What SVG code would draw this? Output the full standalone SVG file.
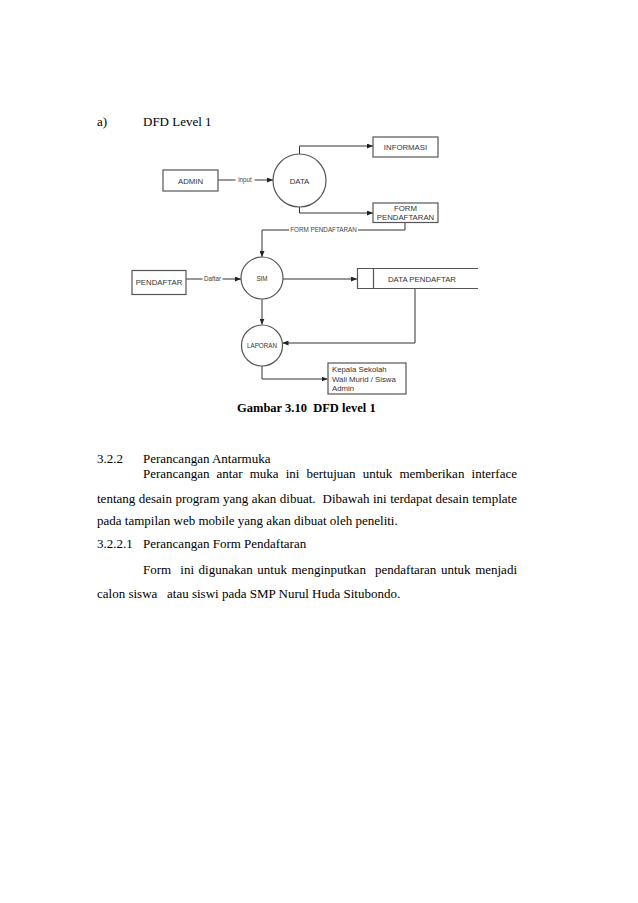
<svg xmlns="http://www.w3.org/2000/svg" width="638" height="903" viewBox="0 0 638 903">
<defs>
<marker id="arr" markerWidth="6" markerHeight="5" refX="6" refY="2.5" orient="auto" markerUnits="userSpaceOnUse">
<path d="M0,0 L6,2.5 L0,5 Z" fill="#222"/>
</marker>
</defs>
<style>
.body{font-family:"Liberation Serif","Times New Roman",serif;font-size:13px;fill:#000;white-space:pre}
.bold{font-family:"Liberation Serif","Times New Roman",serif;font-size:12.5px;font-weight:bold;fill:#000;white-space:pre}
.box{fill:#fff;stroke:#555;stroke-width:1.2}
.nt{font-family:"Liberation Sans",Arial,sans-serif;font-size:7.8px;fill:#333}
.st{font-family:"Liberation Sans",Arial,sans-serif;font-size:6.3px;fill:#333}
.ln{fill:none;stroke:#333;stroke-width:1}
.lbl{font-family:"Liberation Sans",Arial,sans-serif;font-size:6.3px;fill:#444}
</style>
<rect width="638" height="903" fill="#fff"/>

<g id="page-text">
<text class="body" x="97" y="126">a)</text>
<text class="body" x="143" y="126">DFD Level 1</text>
<text class="bold" x="237" y="412" xml:space="preserve">Gambar 3.10  DFD level 1</text>
<text class="body" x="97" y="463">3.2.2</text>
<text class="body" x="143" y="463">Perancangan Antarmuka</text>
<text class="body" x="143" y="478" word-spacing="3.87">Perancangan antar muka ini bertujuan untuk memberikan interface</text>
<text class="body" x="97" y="503" word-spacing="0.24" xml:space="preserve">tentang desain program yang akan dibuat.  Dibawah ini terdapat desain template</text>
<text class="body" x="97" y="525">pada tampilan web mobile yang akan dibuat oleh peneliti.</text>
<text class="body" x="97" y="548">3.2.2.1</text>
<text class="body" x="143" y="548">Perancangan Form Pendaftaran</text>
<text class="body" x="143" y="574" word-spacing="1.32" xml:space="preserve">Form  ini digunakan untuk menginputkan  pendaftaran untuk menjadi</text>
<text class="body" x="97" y="598" xml:space="preserve">calon siswa   atau siswi pada SMP Nurul Huda Situbondo.</text>
</g>

<g id="connectors">
<path class="ln" d="M218,180 H273" marker-end="url(#arr)"/>
<path class="ln" d="M299.5,154 V146 H373" marker-end="url(#arr)"/>
<path class="ln" d="M299.5,207 V213 H373" marker-end="url(#arr)"/>
<path class="ln" d="M405,222.5 V230 H262 V257" marker-end="url(#arr)"/>
<path class="ln" d="M186,279 H241" marker-end="url(#arr)"/>
<path class="ln" d="M283,279 H357" marker-end="url(#arr)"/>
<path class="ln" d="M415,288 V343 H282.5" marker-end="url(#arr)"/>
<path class="ln" d="M262,299 V324.5" marker-end="url(#arr)"/>
<path class="ln" d="M262,365.5 V379 H327.5" marker-end="url(#arr)"/>
<rect x="235.5" y="176" width="19" height="7" fill="#fff"/>
<text class="lbl" x="245" y="182" text-anchor="middle">input</text>
<rect x="289" y="227" width="69" height="6" fill="#fff"/>
<text class="lbl" x="323.5" y="232.2" text-anchor="middle">FORM PENDAFTARAN</text>
<rect x="202.5" y="275.5" width="20" height="7" fill="#fff"/>
<text class="lbl" x="212.5" y="281.3" text-anchor="middle">Daftar</text>
</g>

<g id="admin">
<rect class="box" x="163" y="170" width="55" height="21"/>
<text class="nt" x="190.5" y="183.5" text-anchor="middle">ADMIN</text>
</g>
<g id="data">
<circle class="box" cx="299.5" cy="180.5" r="26.5"/>
<text class="nt" x="299.5" y="183.5" text-anchor="middle">DATA</text>
</g>
<g id="informasi">
<rect class="box" x="373" y="137" width="65" height="20"/>
<text class="nt" x="405.5" y="150" text-anchor="middle">INFORMASI</text>
</g>
<g id="form-pendaftaran">
<rect class="box" x="373" y="203" width="65" height="19.5"/>
<text class="nt" x="405.5" y="210.5" text-anchor="middle">FORM</text>
<text class="nt" x="405.5" y="219.5" text-anchor="middle">PENDAFTARAN</text>
</g>
<g id="pendaftar">
<rect class="box" x="132" y="270.5" width="54" height="24"/>
<text class="nt" x="159" y="285" text-anchor="middle">PENDAFTAR</text>
</g>
<g id="sim">
<circle class="box" cx="262" cy="278" r="21"/>
<text class="st" x="262" y="281" text-anchor="middle">SIM</text>
</g>
<g id="data-pendaftar">
<path class="box" d="M478,268.5 H357.5 V288.5 H478 M373.5,268.5 V288.5"/>
<text class="nt" x="422" y="281.5" text-anchor="middle">DATA PENDAFTAR</text>
</g>
<g id="laporan">
<circle class="box" cx="262" cy="345.5" r="20.5"/>
<text class="st" x="262" y="347.5" text-anchor="middle">LAPORAN</text>
</g>
<g id="penerima">
<rect class="box" x="328" y="363" width="78" height="31"/>
<text class="nt" x="332" y="372">Kepala Sekolah</text>
<text class="nt" x="332" y="381.5">Wali Murid / Siswa</text>
<text class="nt" x="332" y="391">Admin</text>
</g>
</svg>
